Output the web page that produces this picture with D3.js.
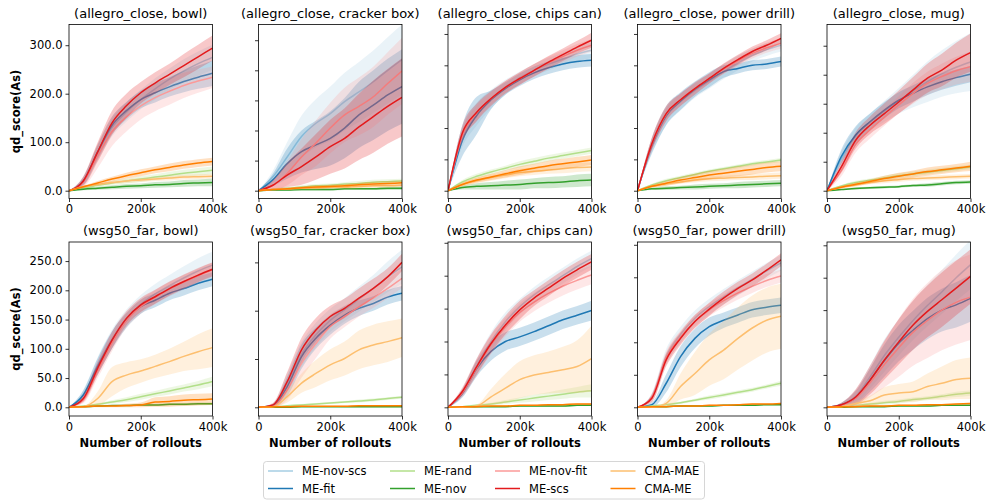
<!DOCTYPE html>
<html><head><meta charset="utf-8">
<script src="https://cdn.jsdelivr.net/npm/d3@7"></script>
<style>
body{margin:0;background:#fff;}
svg{display:block;font-family:"DejaVu Sans",sans-serif;}
</style></head>
<body><svg id="c" width="992" height="504"></svg>
<script>
// ---------------- data ----------------
const xSteps = [0, 40000, 80000, 120000, 160000, 200000, 240000, 280000, 320000, 360000, 400000];
const seriesNames = ["ME-nov-scs", "ME-fit", "ME-rand", "ME-nov", "ME-nov-fit", "ME-scs", "CMA-MAE", "CMA-ME"];
const panelTitles = ["(allegro_close, bowl)", "(allegro_close, cracker box)", "(allegro_close, chips can)",
  "(allegro_close, power drill)", "(allegro_close, mug)", "(wsg50_far, bowl)", "(wsg50_far, cracker box)",
  "(wsg50_far, chips can)", "(wsg50_far, power drill)", "(wsg50_far, mug)"];
const xTickValues = [0, 200000, 400000];
const xTickLabels = ["0", "200k", "400k"];
const yTickStep = [100, 50, 50, 50, 50, 50, 100, 50, 50, 50];
const yDomains = [[-16.1, 342.7], [-13.0, 276.1], [-12.4, 265.1], [-12.4, 265.1], [-13.4, 286.6],
  [-14.9, 282.6], [-18.0, 342.2], [-13.2, 251.2], [-13.4, 254.3], [-13.4, 255.1]];

// means, one row per series (order of seriesNames)
const meanAcBowl = [
  [0, 20, 78, 130, 162, 188, 210, 230, 247, 262, 275],
  [0, 20, 80, 135, 165, 188, 202, 214, 225, 234, 242],
  [0, 6, 11, 16, 20, 24, 28, 32, 36, 39, 42],
  [0, 3, 5, 7, 9, 10, 12, 13, 15, 16, 17],
  [0, 18, 72, 122, 152, 175, 192, 205, 217, 226, 234],
  [0, 20, 80, 140, 175, 202, 222, 240, 258, 276, 294],
  [0, 8, 13, 17, 20, 22, 24, 26, 28, 29, 30],
  [0, 8, 16, 24, 31, 37, 43, 48, 53, 57, 60]];
const bandAcBowl = [
  [0, 8, 15, 18, 20, 20, 22, 22, 24, 25, 26],
  [0, 8, 15, 18, 18, 18, 20, 20, 22, 24, 26],
  [0, 2, 3, 4, 5, 6, 6, 7, 7, 8, 8],
  [0, 2, 3, 4, 5, 5, 6, 6, 7, 7, 8],
  [0, 10, 25, 30, 30, 28, 28, 28, 26, 24, 22],
  [0, 10, 20, 25, 25, 22, 22, 22, 24, 25, 26],
  [0, 2, 3, 3, 4, 4, 4, 5, 5, 5, 5],
  [0, 2, 4, 5, 6, 7, 7, 8, 8, 8, 8]];

const meanAcCracker = [
  [0, 23, 56, 90, 112, 128, 148, 164, 181, 200, 218],
  [0, 18, 45, 65, 76, 87, 104, 126, 142, 159, 173],
  [0, 2, 4, 6, 8, 9, 11, 12, 14, 15, 16],
  [0, 1, 1, 2, 2, 2, 3, 3, 3, 4, 4],
  [0, 9, 29, 56, 79, 104, 126, 140, 156, 178, 199],
  [0, 9, 26, 40, 56, 73, 87, 106, 123, 140, 155],
  [0, 2, 3, 4, 5, 6, 6, 7, 8, 8, 9],
  [0, 2, 3, 5, 6, 7, 8, 10, 11, 12, 13]];
const bandAcCracker = [
  [0, 10, 25, 35, 40, 45, 48, 50, 52, 55, 58],
  [0, 10, 25, 35, 40, 45, 50, 55, 58, 60, 62],
  [0, 2, 2, 3, 3, 3, 3, 4, 4, 4, 4],
  [0, 1, 1, 2, 2, 2, 2, 2, 2, 3, 3],
  [0, 8, 20, 30, 38, 42, 45, 48, 50, 52, 55],
  [0, 8, 20, 30, 38, 45, 50, 55, 60, 62, 65],
  [0, 1, 2, 2, 3, 3, 3, 3, 3, 3, 3],
  [0, 1, 2, 2, 3, 3, 3, 3, 4, 4, 4]];

const meanAcChips = [
  [0, 85, 122, 146, 165, 180, 192, 202, 210, 218, 224],
  [0, 80, 120, 145, 163, 177, 188, 196, 202, 206, 208],
  [0, 14, 23, 30, 36, 42, 47, 52, 56, 60, 64],
  [0, 5, 7, 8, 9, 10, 12, 13, 14, 16, 17],
  [0, 88, 124, 147, 165, 179, 192, 204, 214, 224, 232],
  [0, 92, 125, 147, 165, 179, 192, 205, 217, 229, 240],
  [0, 10, 16, 21, 25, 29, 31, 33, 35, 37, 38],
  [0, 10, 17, 22, 27, 32, 36, 40, 43, 46, 49]];
const bandAcChips = [
  [0, 15, 18, 15, 12, 10, 10, 10, 10, 12, 12],
  [0, 25, 30, 15, 10, 10, 10, 10, 10, 10, 10],
  [0, 3, 4, 4, 4, 5, 5, 5, 5, 5, 5],
  [0, 3, 5, 6, 7, 8, 8, 9, 9, 10, 10],
  [0, 10, 12, 10, 10, 10, 10, 10, 10, 10, 10],
  [0, 12, 14, 12, 10, 10, 10, 10, 10, 10, 12],
  [0, 3, 4, 5, 5, 6, 6, 6, 7, 7, 7],
  [0, 3, 4, 5, 6, 7, 7, 8, 8, 8, 8]];

const meanAcDrill = [
  [0, 70, 118, 142, 160, 175, 190, 204, 216, 225, 232],
  [0, 72, 120, 143, 162, 177, 190, 195, 200, 202, 206],
  [0, 9, 16, 21, 26, 31, 35, 39, 43, 46, 49],
  [0, 3, 4, 5, 6, 7, 8, 9, 10, 11, 12],
  [0, 74, 122, 145, 163, 179, 194, 207, 219, 228, 235],
  [0, 75, 123, 145, 163, 179, 195, 209, 222, 232, 243],
  [0, 7, 11, 14, 17, 19, 20, 21, 22, 23, 24],
  [0, 7, 12, 17, 21, 25, 28, 31, 34, 37, 39]];
const bandAcDrill = [
  [0, 12, 14, 14, 12, 12, 12, 12, 10, 10, 10],
  [0, 12, 15, 14, 12, 12, 10, 8, 8, 8, 8],
  [0, 2, 3, 3, 3, 3, 3, 3, 3, 3, 3],
  [0, 2, 3, 3, 4, 4, 4, 5, 5, 5, 5],
  [0, 10, 10, 10, 8, 8, 8, 8, 8, 8, 8],
  [0, 10, 12, 10, 10, 8, 8, 8, 8, 8, 8],
  [0, 2, 3, 3, 4, 4, 4, 4, 5, 5, 5],
  [0, 2, 4, 5, 6, 7, 7, 8, 8, 8, 8]];

const meanAcMug = [
  [0, 55, 94, 118, 137, 155, 172, 188, 202, 213, 222],
  [0, 59, 96, 119, 139, 156, 168, 179, 188, 195, 201],
  [0, 8, 14, 18, 22, 26, 29, 32, 35, 38, 41],
  [0, 2, 4, 5, 6, 7, 9, 10, 12, 14, 15],
  [0, 35, 80, 105, 127, 148, 168, 185, 197, 207, 214],
  [0, 41, 87, 113, 133, 153, 174, 194, 208, 225, 238],
  [0, 6, 10, 14, 17, 19, 21, 22, 23, 24, 25],
  [0, 6, 11, 16, 21, 25, 29, 33, 36, 39, 42]];
const bandAcMug = [
  [0, 12, 15, 15, 18, 22, 28, 35, 40, 45, 50],
  [0, 12, 15, 14, 14, 14, 14, 14, 14, 14, 14],
  [0, 2, 3, 3, 4, 4, 4, 4, 4, 4, 4],
  [0, 1, 2, 2, 2, 2, 2, 3, 3, 3, 3],
  [0, 10, 14, 15, 15, 15, 18, 20, 22, 24, 26],
  [0, 10, 14, 15, 18, 20, 22, 25, 28, 30, 33],
  [0, 2, 3, 3, 4, 4, 4, 4, 4, 4, 4],
  [0, 2, 3, 4, 5, 6, 6, 7, 7, 7, 8]];

const meanWfBowl = [
  [0, 22, 72, 117, 151, 176, 194, 208, 221, 233, 243],
  [0, 21, 70, 115, 149, 172, 183, 195, 203, 212, 219],
  [0, 2, 5, 9, 13, 18, 23, 28, 33, 38, 44],
  [0, 1, 2, 3, 3, 4, 4, 5, 5, 6, 6],
  [0, 13, 62, 110, 148, 172, 188, 202, 214, 225, 235],
  [0, 15, 67, 115, 152, 175, 189, 203, 215, 226, 236],
  [0, 1, 15, 44, 55, 62, 70, 78, 87, 95, 102],
  [0, 1, 2, 2, 3, 4, 9, 10, 12, 13, 14]];
const bandWfBowl = [
  [0, 8, 14, 16, 16, 16, 17, 18, 20, 22, 23],
  [0, 8, 14, 15, 12, 12, 12, 12, 12, 12, 12],
  [0, 1, 2, 3, 4, 5, 5, 6, 6, 7, 8],
  [0, 1, 1, 1, 1, 2, 2, 2, 2, 2, 2],
  [0, 6, 12, 14, 12, 12, 12, 12, 12, 12, 12],
  [0, 6, 12, 14, 12, 12, 12, 12, 12, 12, 12],
  [0, 1, 12, 25, 22, 20, 20, 22, 25, 30, 33],
  [0, 1, 2, 2, 3, 4, 8, 9, 10, 10, 10]];

const meanWfCracker = [
  [0, 4, 50, 110, 150, 180, 202, 224, 246, 270, 291],
  [0, 3, 43, 105, 143, 170, 191, 205, 215, 228, 236],
  [0, 1, 3, 5, 7, 9, 11, 13, 15, 18, 21],
  [0, 0, 0, 1, 1, 1, 1, 1, 1, 1, 1],
  [0, 2, 35, 91, 132, 167, 188, 208, 226, 246, 267],
  [0, 5, 53, 119, 160, 188, 205, 226, 246, 270, 300],
  [0, 1, 22, 50, 70, 88, 101, 119, 129, 136, 144],
  [0, 1, 1, 2, 2, 2, 2, 3, 3, 3, 3]];
const bandWfCracker = [
  [0, 4, 20, 25, 25, 24, 24, 26, 28, 32, 35],
  [0, 4, 20, 25, 22, 20, 18, 16, 15, 15, 15],
  [0, 1, 1, 2, 2, 2, 2, 3, 3, 3, 3],
  [0, 0, 0, 0, 0, 0, 1, 1, 1, 1, 1],
  [0, 3, 20, 30, 30, 25, 22, 20, 20, 20, 20],
  [0, 4, 20, 25, 25, 22, 20, 20, 20, 18, 18],
  [0, 1, 12, 20, 28, 32, 35, 40, 42, 42, 40],
  [0, 1, 1, 1, 1, 1, 1, 1, 1, 1, 1]];

const meanWfChips = [
  [0, 22, 62, 100, 130, 153, 171, 186, 200, 214, 226],
  [0, 21, 59, 85, 100, 107, 115, 124, 133, 140, 147],
  [0, 1, 3, 5, 8, 11, 14, 17, 20, 23, 25],
  [0, 0, 1, 1, 1, 2, 2, 2, 2, 3, 3],
  [0, 22, 60, 95, 122, 144, 160, 173, 184, 193, 201],
  [0, 24, 62, 97, 125, 148, 166, 181, 196, 209, 221],
  [0, 0, 2, 16, 29, 42, 49, 53, 57, 62, 74],
  [0, 1, 1, 2, 2, 3, 3, 4, 4, 5, 5]];
const bandWfChips = [
  [0, 6, 12, 14, 14, 12, 12, 12, 12, 12, 12],
  [0, 6, 12, 14, 14, 14, 14, 14, 14, 14, 15],
  [0, 1, 2, 2, 3, 4, 5, 6, 7, 8, 10],
  [0, 0, 1, 1, 1, 1, 1, 1, 1, 1, 1],
  [0, 6, 12, 14, 14, 14, 14, 14, 14, 14, 14],
  [0, 6, 12, 14, 14, 14, 12, 12, 12, 12, 12],
  [0, 0, 2, 12, 22, 28, 30, 32, 35, 40, 50],
  [0, 1, 1, 1, 1, 1, 1, 1, 1, 1, 1]];

const meanWfDrill = [
  [0, 16, 78, 112, 137, 155, 170, 184, 197, 210, 222],
  [0, 4, 37, 78, 106, 124, 134, 142, 150, 154, 157],
  [0, 2, 4, 7, 11, 15, 19, 23, 27, 32, 37],
  [0, 1, 1, 2, 2, 2, 3, 3, 3, 4, 4],
  [0, 15, 76, 108, 132, 150, 164, 176, 186, 195, 202],
  [0, 14, 73, 106, 132, 151, 168, 183, 196, 211, 227],
  [0, 0, 6, 32, 52, 73, 88, 106, 122, 134, 140],
  [0, 1, 1, 2, 2, 3, 3, 4, 5, 5, 6]];
const bandWfDrill = [
  [0, 6, 12, 12, 12, 12, 12, 12, 12, 12, 12],
  [0, 4, 14, 16, 15, 14, 12, 12, 12, 12, 12],
  [0, 1, 2, 2, 2, 3, 3, 3, 3, 3, 4],
  [0, 0, 1, 1, 1, 1, 1, 1, 1, 1, 1],
  [0, 6, 10, 10, 10, 10, 10, 10, 10, 10, 10],
  [0, 6, 10, 10, 10, 10, 10, 10, 10, 10, 10],
  [0, 0, 5, 20, 33, 40, 45, 48, 50, 50, 50],
  [0, 1, 1, 1, 1, 1, 1, 1, 1, 1, 1]];

const meanWfMug = [
  [0, 4, 17, 47, 80, 108, 134, 157, 178, 200, 220],
  [0, 4, 15, 42, 72, 99, 119, 137, 150, 158, 168],
  [0, 1, 3, 5, 7, 9, 12, 14, 17, 20, 22],
  [0, 0, 1, 1, 1, 2, 2, 2, 3, 3, 3],
  [0, 3, 14, 38, 66, 92, 116, 134, 150, 162, 170],
  [0, 4, 16, 42, 73, 101, 127, 148, 166, 184, 202],
  [0, 1, 6, 10, 19, 22, 24, 32, 37, 43, 45],
  [0, 1, 1, 2, 2, 3, 3, 4, 4, 5, 6]];
const bandWfMug = [
  [0, 3, 10, 18, 25, 28, 30, 32, 34, 36, 38],
  [0, 3, 10, 18, 25, 28, 30, 32, 33, 35, 36],
  [0, 1, 2, 2, 3, 3, 3, 3, 3, 4, 4],
  [0, 0, 1, 1, 1, 1, 1, 1, 1, 1, 1],
  [0, 3, 12, 22, 35, 45, 52, 58, 62, 65, 66],
  [0, 3, 12, 22, 30, 35, 38, 40, 42, 42, 42],
  [0, 1, 4, 8, 12, 14, 16, 20, 26, 30, 32],
  [0, 1, 1, 1, 1, 1, 1, 1, 1, 1, 1]];

const panelMeans = [meanAcBowl, meanAcCracker, meanAcChips, meanAcDrill, meanAcMug,
  meanWfBowl, meanWfCracker, meanWfChips, meanWfDrill, meanWfMug];
const panelBands = [bandAcBowl, bandAcCracker, bandAcChips, bandAcDrill, bandAcMug,
  bandWfBowl, bandWfCracker, bandWfChips, bandWfDrill, bandWfMug];

// ---------------- style / layout ----------------
const seriesColors = ["#a6cee3", "#1f78b4", "#b2df8a", "#33a02c", "#fb9a99", "#e31a1c", "#fdbf6f", "#ff7f00"];
const svg = d3.select("#c");
const panelW = 143.5, panelH = 174;
const colLeft = [69, 258.5, 448, 637.5, 827];
const rowTop = [24.5, 242];
const fmt1 = d3.format(".1f");

panelTitles.forEach((title, p) => {
  const row = Math.floor(p / 5), col = p % 5;
  const left = colLeft[col], top = rowTop[row];
  const x = d3.scaleLinear().domain([0, 400000]).range([left, left + panelW]);
  const y = d3.scaleLinear().domain(yDomains[p]).range([top + panelH, top]);
  const g = svg.append("g");
  const clipId = "clip" + p;
  svg.append("defs").append("clipPath").attr("id", clipId)
    .append("rect").attr("x", left).attr("y", top).attr("width", panelW).attr("height", panelH);
  const plot = g.append("g").attr("clip-path", `url(#${clipId})`);

  const means = panelMeans[p], bands = panelBands[p];
  seriesNames.forEach((name, s) => {
    const pts = xSteps.map((xv, i) => ({ x: xv, m: means[s][i], b: bands[s][i] }));
    const area = d3.area().x(d => x(d.x)).y0(d => y(d.m - d.b)).y1(d => y(d.m + d.b)).curve(d3.curveMonotoneX);
    const line = d3.line().x(d => x(d.x)).y(d => y(d.m)).curve(d3.curveMonotoneX);
    plot.append("path").attr("d", area(pts)).attr("fill", seriesColors[s]).attr("fill-opacity", 0.24);
    plot.append("path").attr("d", line(pts)).attr("fill", "none").attr("stroke", seriesColors[s]).attr("stroke-width", 1.5);
  });

  // axes
  const xAxis = d3.axisBottom(x).tickValues(xTickValues).tickFormat((d, i) => xTickLabels[i]).tickSizeOuter(0).tickSize(3.5).tickPadding(3);
  const yTicks = d3.range(0, yDomains[p][1], yTickStep[p]);
  const yAxis = d3.axisLeft(y).tickValues(yTicks).tickFormat(col === 0 ? fmt1 : "").tickSizeOuter(0).tickSize(3.5).tickPadding(3);
  const gx = g.append("g").attr("transform", `translate(0,${top + panelH})`).call(xAxis);
  const gy = g.append("g").attr("transform", `translate(${left},0)`).call(yAxis);
  [gx, gy].forEach(a => {
    a.select(".domain").remove();
    a.selectAll("line").attr("stroke", "#000").attr("stroke-width", 0.8);
    a.selectAll("text").attr("fill", "#000").style("font-size", "11.5px").style("font-family", "DejaVu Sans");
  });
  g.append("rect").attr("x", left).attr("y", top).attr("width", panelW).attr("height", panelH)
    .attr("fill", "none").attr("stroke", "#000").attr("stroke-width", 0.8);

  g.append("text").attr("x", left + panelW / 2).attr("y", top - 7).attr("text-anchor", "middle")
    .style("font-size", "13px").text(title);
  if (col === 0) {
    g.append("text").attr("transform", `translate(${left - 49},${top + panelH / 2}) rotate(-90)`)
      .attr("text-anchor", "middle").style("font-size", "11.5px").style("font-weight", "bold").text("qd_score(As)");
  }
  if (row === 1) {
    g.append("text").attr("x", left + panelW / 2).attr("y", top + panelH + 31).attr("text-anchor", "middle")
      .style("font-size", "11.5px").style("font-weight", "bold").text("Number of rollouts");
  }
});

// legend
const lg = svg.append("g");
lg.append("rect").attr("x", 263.5).attr("y", 461.5).attr("width", 441).attr("height", 37.5).attr("rx", 3)
  .attr("fill", "#fff").attr("stroke", "#ccc").attr("stroke-width", 0.8);
const legCols = [268, 390, 495, 610.5];
const legRows = [471, 488.5];
seriesNames.forEach((name, s) => {
  const cx = legCols[Math.floor(s / 2)], cy = legRows[s % 2];
  lg.append("line").attr("x1", cx).attr("x2", cx + 25).attr("y1", cy).attr("y2", cy)
    .attr("stroke", seriesColors[s]).attr("stroke-width", 1.5);
  lg.append("text").attr("x", cx + 34).attr("y", cy + 4).style("font-size", "11.5px").text(name);
});
</script></body></html>
